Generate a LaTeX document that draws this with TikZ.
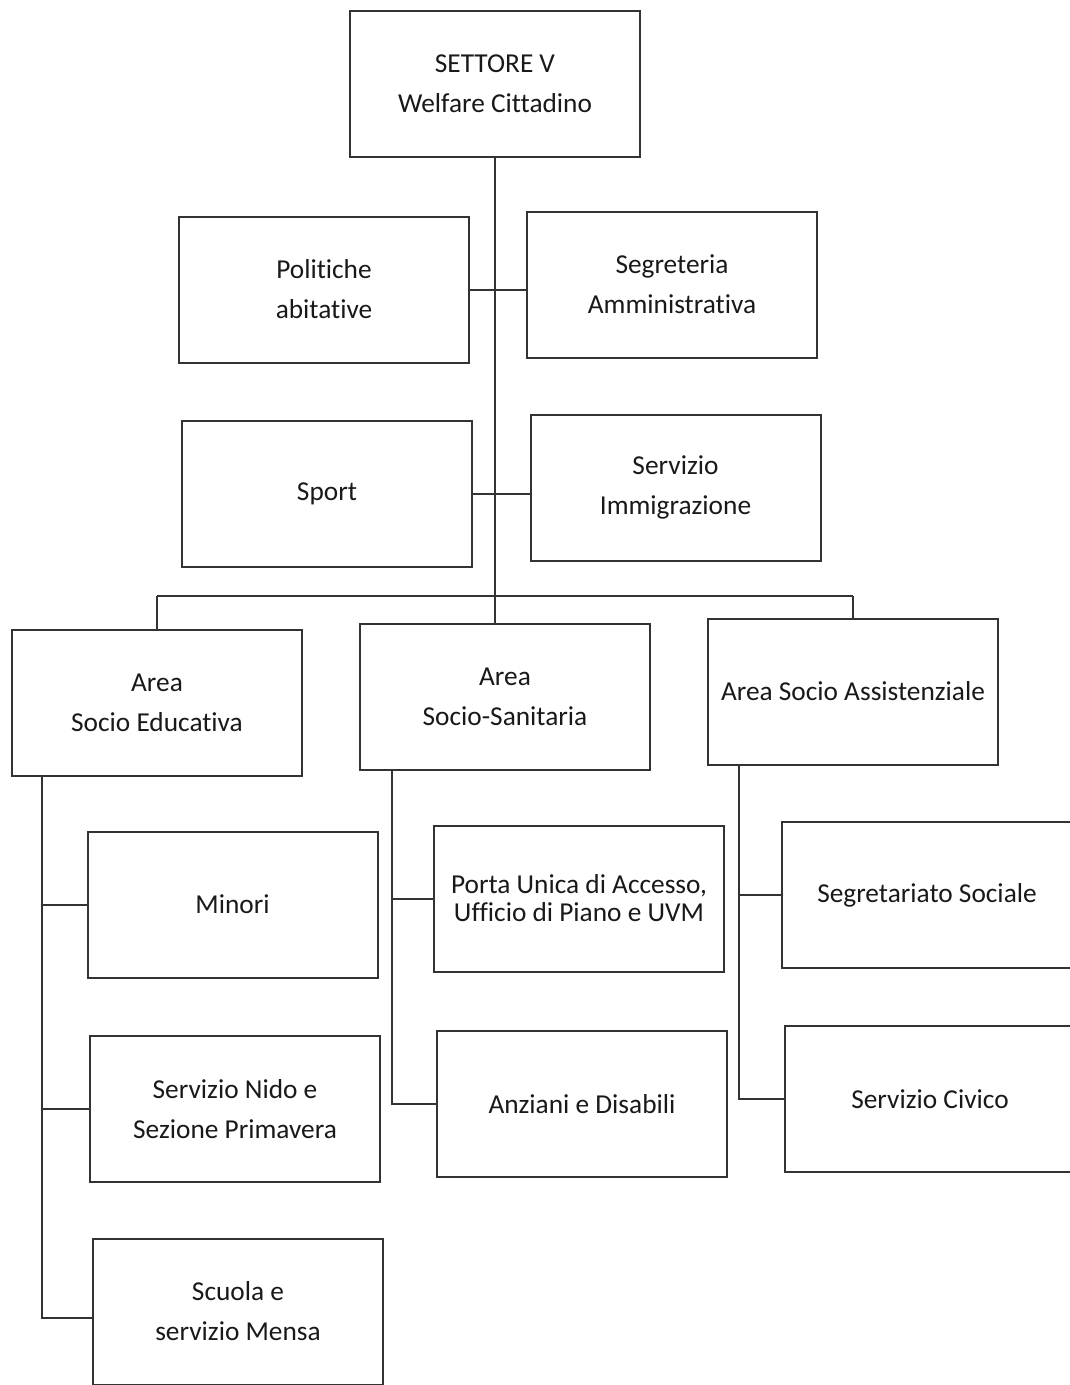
\documentclass[tikz,border=0pt]{standalone}
\usepackage{fontspec}
\setmainfont[Ligatures=NoCommon]{Carlito}
\usetikzlibrary{calc}
\begin{document}
\begin{tikzpicture}[x=0.75pt,y=-0.75pt,
  unit/.style={draw=black!80, line width=1.5pt, rectangle, align=center,
    minimum width=217.5pt, minimum height=109.5pt, inner sep=2pt,
    font=\fontsize{20.5}{30}\selectfont, text=black!90},
  link/.style={draw=black!80, line width=1.5pt}]
\useasboundingbox (0,0) rectangle (1070,1385);
\fill[white] (0,0) rectangle (1070,1385);

% top level
\node[unit] (settore) at (495,83.5) {SETTORE V\\Welfare Cittadino};

% staff units beside the spine
\node[unit] (polit) at (324,289.5) {Politiche\\abitative};
\node[unit] (segr)  at (672,284.5) {Segreteria\\Amministrativa};
\node[unit] (sport) at (327,494) {Sport};
\node[unit] (immig) at (675.5,487.5) {Servizio\\Immigrazione};

% areas
\node[unit] (aedu) at (157,702.5) {Area\\Socio Educativa};
\node[unit] (asan) at (505,696.5) {Area\\Socio-Sanitaria};
\node[unit] (aass) at (853,691.5) {Area Socio Assistenziale};

% services
\node[unit] (minori) at (232.5,904.5) {Minori};
\node[unit] (nido)   at (235,1109) {Servizio Nido e\\Sezione Primavera};
\node[unit] (scuola) at (238,1311.5) {Scuola e\\servizio Mensa};
\node[unit] (porta)  at (579,898.5) {Porta Unica di Accesso,\\[-9pt]Ufficio di Piano e UVM};
\node[unit] (anz)    at (582,1104) {Anziani e Disabili};
\node[unit] (segsoc) at (927,895) {Segretariato Sociale};
\node[unit] (civico) at (930,1099) {Servizio Civico};

% main spine and distribution bar
\coordinate (bar) at (497,596);
\draw[link] (settore.south) -- (settore.south |- bar);
\draw[link] (aedu.north |- bar) -- (aass.north |- bar);
\draw[link] (aedu.north |- bar) -- (aedu.north);
\draw[link] (aass.north |- bar) -- (aass.north);
\draw[link] (settore.south |- bar) -- (settore.south |- asan.north);

% staff links
\draw[link] (polit.east) -- (polit.east -| segr.west);
\draw[link] (sport.east) -- (sport.east -| immig.west);

% area spines
\coordinate (edu) at ($(aedu.south west)+(31,0)$);
\coordinate (san) at ($(asan.south west)+(33,0)$);
\coordinate (ass) at ($(aass.south west)+(32,0)$);

\draw[link] (edu) |- ($(scuola.west)+(0,6)$);
\draw[link] (edu |- minori.west) -- (minori.west);
\draw[link] (edu |- nido.west) -- (nido.west);

\draw[link] (san) |- (anz.west);
\draw[link] (san |- porta.west) -- (porta.west);

\draw[link] (ass) |- (civico.west);
\draw[link] (ass |- segsoc.west) -- (segsoc.west);
\end{tikzpicture}
\end{document}
